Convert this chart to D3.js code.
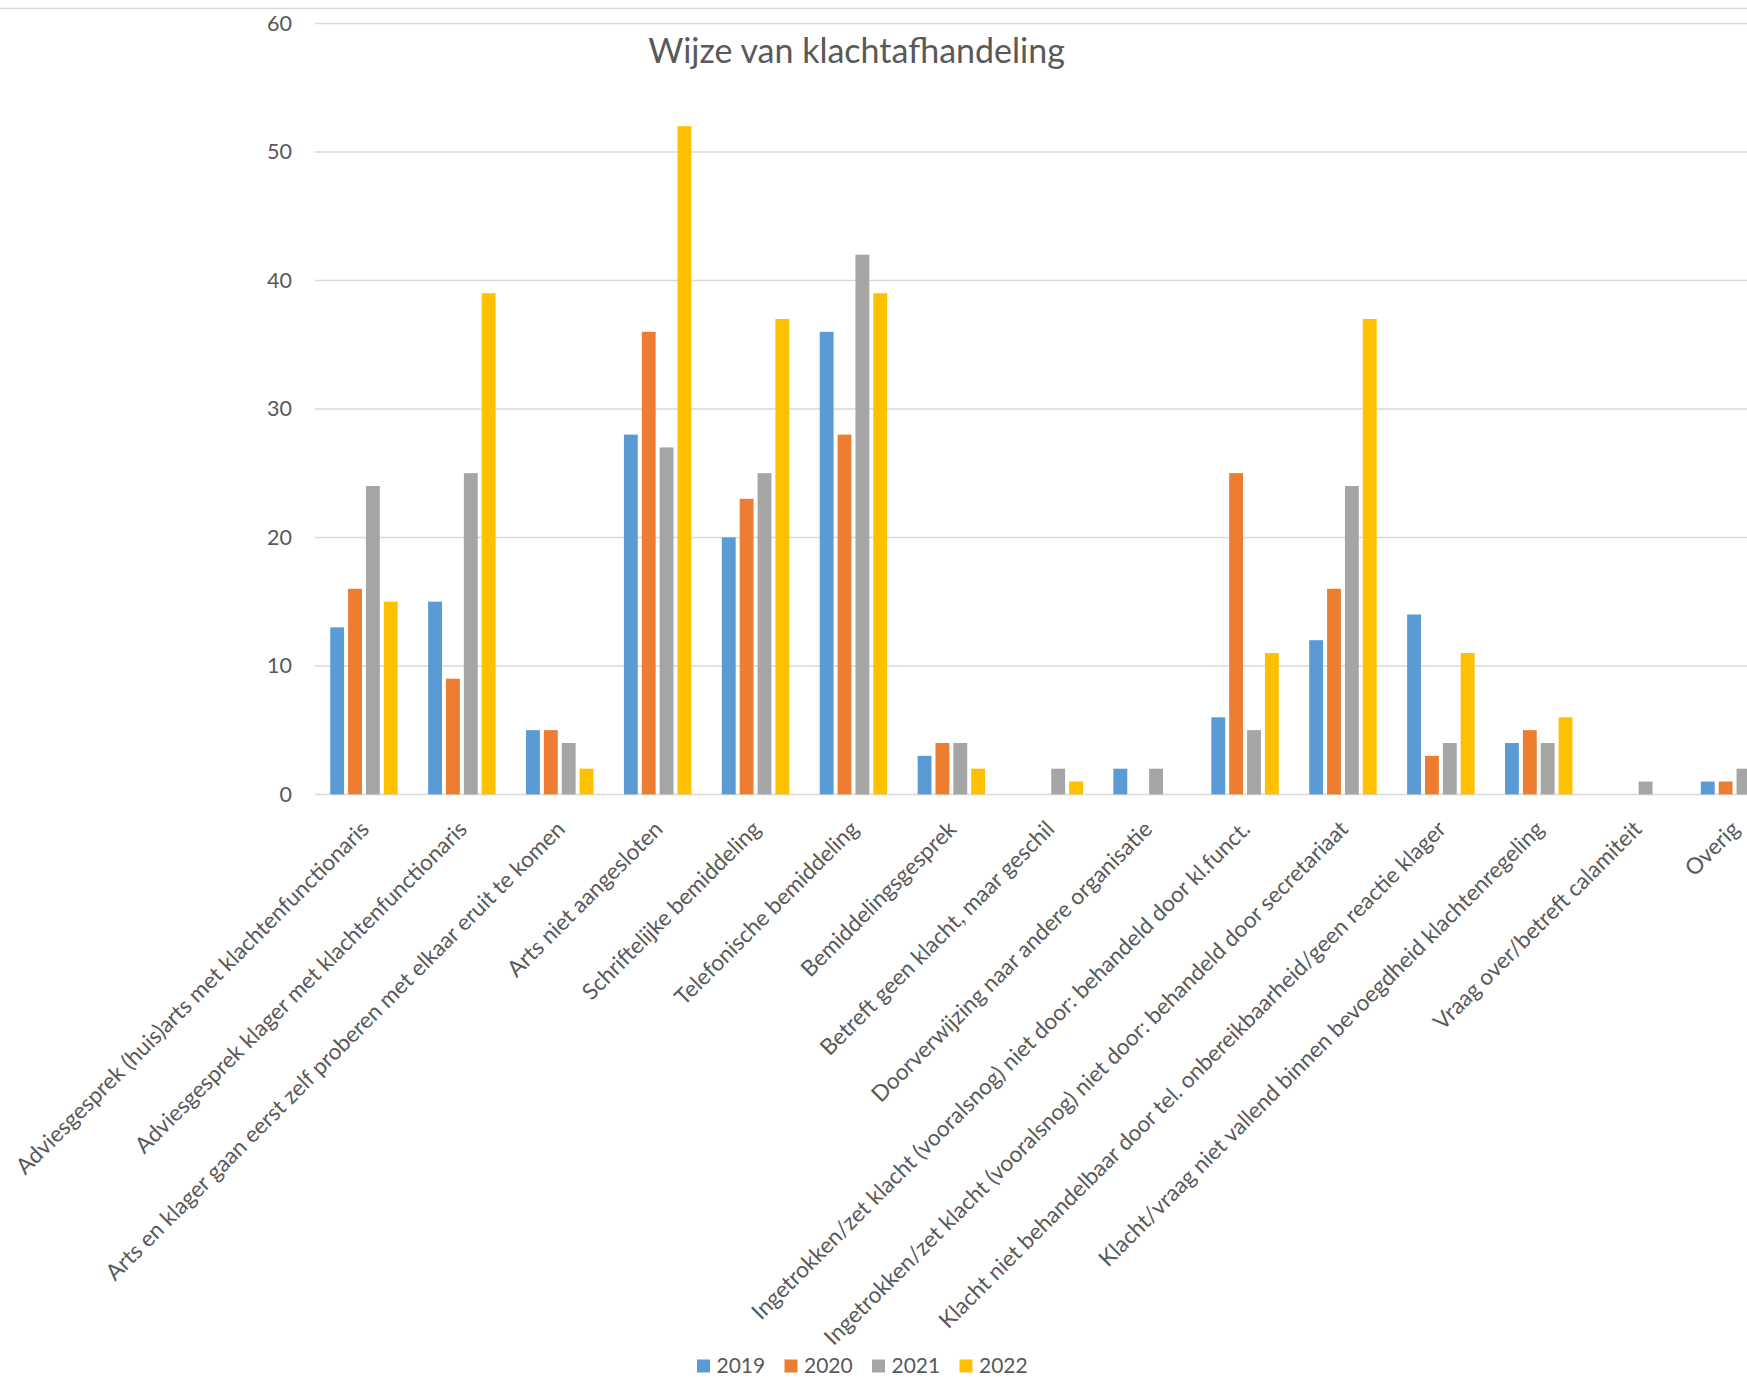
<!DOCTYPE html>
<html>
<head>
<meta charset="utf-8">
<script src="https://cdn.jsdelivr.net/npm/d3@7"></script>
<style>
	html, body { margin: 0; padding: 0; background: #fff; }
	svg text { font-family: Lato, "Open Sans", sans-serif; fill: #595959; }
</style>
</head>
<body>
<div id="chart"></div>
<script>
let WIDTH = 1747;
let HEIGHT = 1378;

let TITLE = 'Wijze van klachtafhandeling';

let categories = [
	'Adviesgesprek (huis)arts met klachtenfunctionaris',
	'Adviesgesprek klager met klachtenfunctionaris',
	'Arts en klager gaan eerst zelf proberen met elkaar eruit te komen',
	'Arts niet aangesloten',
	'Schriftelijke bemiddeling',
	'Telefonische bemiddeling',
	'Bemiddelingsgesprek',
	'Betreft geen klacht, maar geschil',
	'Doorverwijzing naar andere organisatie',
	'Ingetrokken/zet klacht (vooralsnog) niet door: behandeld door kl.funct.',
	'Ingetrokken/zet klacht (vooralsnog) niet door: behandeld door secretariaat',
	'Klacht niet behandelbaar door tel. onbereikbaarheid/geen reactie klager',
	'Klacht/vraag niet vallend binnen bevoegdheid klachtenregeling',
	'Vraag over/betreft calamiteit',
	'Overig'
];

let years = ['2019', '2020', '2021', '2022'];

let values2019 = [13, 15, 5, 28, 20, 36, 3, 0, 2, 6, 12, 14, 4, 0, 1];
let values2020 = [16, 9, 5, 36, 23, 28, 4, 0, 0, 25, 16, 3, 5, 0, 1];
let values2021 = [24, 25, 4, 27, 25, 42, 4, 2, 2, 5, 24, 4, 4, 1, 2];
let values2022 = [15, 39, 2, 52, 37, 39, 2, 1, 0, 11, 37, 11, 6, 0, 0];

let yTicks = [0, 10, 20, 30, 40, 50, 60];

let colors = ['#5B9BD5', '#ED7D31', '#A5A5A5', '#FFC000'];

let seriesValues = [values2019, values2020, values2021, values2022];

let plot = {left: 315, top: 23.4, bottom: 794.4, step: 97.9};

let svg = d3.select('#chart').append('svg')
	.attr('width', WIDTH)
	.attr('height', HEIGHT);

svg.append('rect')
	.attr('width', WIDTH)
	.attr('height', HEIGHT)
	.attr('fill', '#fff');

// chart frame top edge
svg.append('line')
	.attr('x1', 0).attr('x2', WIDTH)
	.attr('y1', 8.5).attr('y2', 8.5)
	.attr('stroke', '#d9d9d9')
	.attr('stroke-width', 1.5);

let x0 = d3.scaleBand()
	.domain(categories)
	.range([plot.left, plot.left + plot.step * categories.length])
	.paddingInner(0.27)
	.paddingOuter(0.135);

let x1 = d3.scaleBand()
	.domain(years)
	.range([0, x0.bandwidth()]);

let y = d3.scaleLinear()
	.domain([0, 60])
	.range([plot.bottom, plot.top]);

// gridlines
svg.append('g').selectAll('line')
	.data(yTicks)
	.enter().append('line')
	.attr('x1', plot.left)
	.attr('x2', WIDTH)
	.attr('y1', (d) => y(d))
	.attr('y2', (d) => y(d))
	.attr('stroke', '#d9d9d9')
	.attr('stroke-width', 1.5);

svg.append('g').selectAll('text')
	.data(yTicks)
	.enter().append('text')
	.attr('x', 292)
	.attr('y', (d) => y(d))
	.attr('dy', '0.35em')
	.attr('text-anchor', 'end')
	.style('font-size', '21.5px')
	.text((d) => d);

// bars
let rows = [];
categories.forEach((c, i) => {
	years.forEach((yr, j) => {
		rows.push({cat: c, year: yr, value: seriesValues[j][i], color: colors[j]});
	});
});

svg.append('g').selectAll('rect')
	.data(rows.filter((d) => d.value > 0))
	.enter().append('rect')
	.attr('x', (d) => x0(d.cat) + x1(d.year) + 2)
	.attr('width', x1.bandwidth() - 4)
	.attr('y', (d) => y(d.value))
	.attr('height', (d) => y(0) - y(d.value))
	.attr('fill', (d) => d.color);

// category labels
svg.append('g').selectAll('text')
	.data(categories)
	.enter().append('text')
	.attr('transform', (d) => 'translate(' + (x0(d) + x0.bandwidth() / 2 + 1) + ',825) rotate(-45)')
	.attr('dy', '0.35em')
	.attr('text-anchor', 'end')
	.style('font-size', '22.5px')
	.text((d) => d);

// title
svg.append('text')
	.attr('x', 856.5)
	.attr('y', 63)
	.attr('text-anchor', 'middle')
	.style('font-size', '34px')
	.text(TITLE);

// legend
let legend = svg.append('g').selectAll('g')
	.data(years)
	.enter().append('g')
	.attr('transform', (d, i) => 'translate(' + (697 + i * 87.5) + ',1366)');

legend.append('rect')
	.attr('x', 0)
	.attr('y', -6.5)
	.attr('width', 13)
	.attr('height', 13)
	.attr('fill', (d, i) => colors[i]);

legend.append('text')
	.attr('x', 19.5)
	.attr('dy', '0.35em')
	.style('font-size', '21px')
	.text((d) => d);
</script>
</body>
</html>
